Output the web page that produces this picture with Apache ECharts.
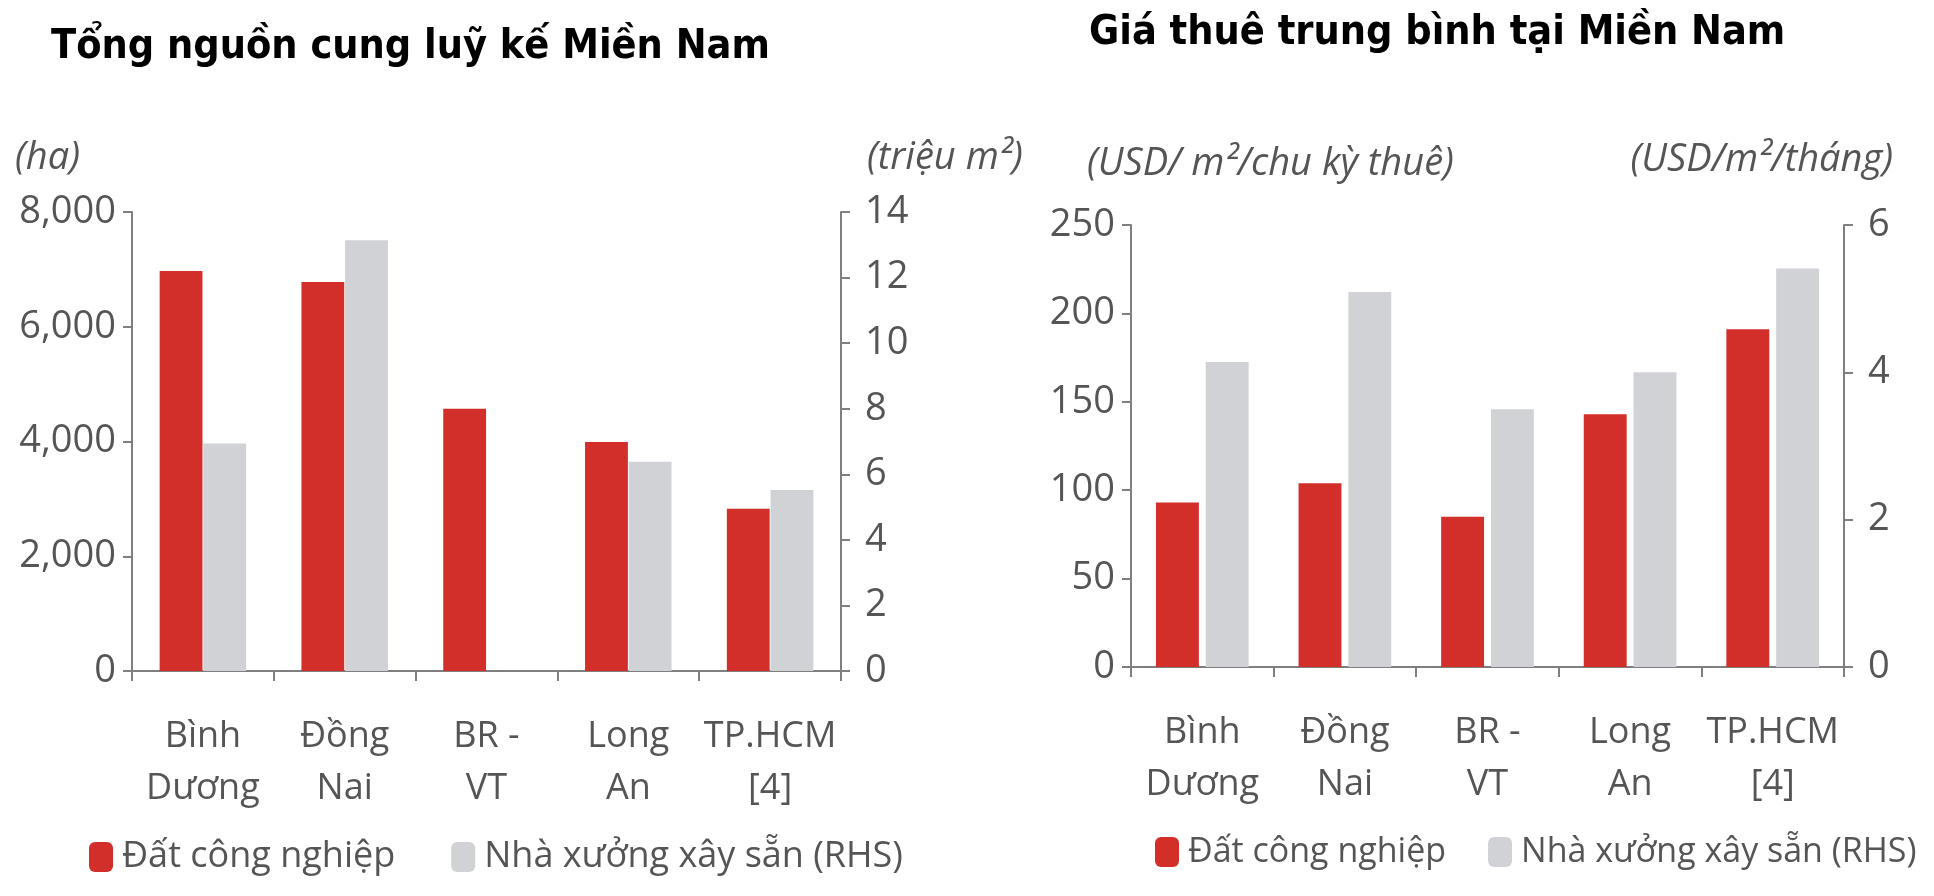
<!DOCTYPE html>
<html lang="vi">
<head>
  <meta charset="UTF-8">
  <title>Nguồn cung và giá thuê Miền Nam</title>
  <script src="https://cdn.jsdelivr.net/npm/echarts@6/dist/echarts.min.js"></script>
  <style>
    html, body { margin: 0; padding: 0; background: #fff; }
  </style>
</head>
<body>
  <div id="main" style="width:1934px;height:896px;"></div>
</body>
</html>
<script type="text/javascript">
  // khu vực (dùng chung cho 2 biểu đồ)
  const khuVuc = ['Bình\nDương', 'Đồng\nNai', 'BR -\nVT', 'Long\nAn', 'TP.HCM\n[4]'];

  // Tổng nguồn cung luỹ kế
  const datCongNghiepHa = [6970, 6780, 4570, 3990, 2830];        // ha
  const nhaXuongTrieuM2 = [6.94, 13.14, null, 6.38, 5.52];        // triệu m2 (RHS)

  // Giá thuê trung bình
  const giaDatCN = [93, 104, 85, 143, 191];                       // USD/m2/chu kỳ thuê
  const giaNhaXuong = [4.14, 5.09, 3.5, 4.0, 5.41];               // USD/m2/tháng (RHS)

  const tenDat = 'Đất công nghiệp';
  const tenNhaXuong = 'Nhà xưởng xây sẵn (RHS)';

  const RED = '#D22E2A';
  const GRAY = '#D0D2D5';
  const AXIS = '#7f7f7f';
  const TXT = '#555555';
  const FONT = "'Open Sans', sans-serif";

  let chart = echarts.init(document.getElementById('main'));

  function valAxis(grid, pos, max, step, fmt) {
    return {
      type: 'value',
      gridIndex: grid,
      position: pos,
      min: 0,
      max: max,
      interval: step,
      splitLine: { show: false },
      axisLine: { show: true, lineStyle: { color: AXIS, width: 2 } },
      axisTick: { show: true, length: 9, lineStyle: { color: AXIS, width: 2 } },
      axisLabel: {
        color: TXT, fontSize: 38, fontFamily: FONT, margin: pos === 'left' ? 16 : 24,
        formatter: fmt
      }
    };
  }

  function catAxis(grid) {
    return {
      type: 'category',
      gridIndex: grid,
      data: khuVuc,
      axisLine: { show: true, lineStyle: { color: AXIS, width: 2 } },
      axisTick: { show: true, length: 10, lineStyle: { color: AXIS, width: 2 } },
      axisLabel: {
        color: TXT, fontSize: 36, fontFamily: FONT, lineHeight: 52,
        margin: 40, interval: 0
      }
    };
  }

  const unitStyle = { color: TXT, fontSize: 38, fontStyle: 'italic', fontWeight: 'normal', fontFamily: FONT };
  const titleStyle = { color: '#000', fontSize: 41, fontWeight: 'bold', fontFamily: "'DejaVu Sans Condensed', 'DejaVu Sans', sans-serif" };

  let option = {
    animation: false,
    backgroundColor: '#fff',
    title: [
      { text: 'Tổng nguồn cung luỹ kế Miền Nam', left: 46, top: 22, textStyle: titleStyle },
      { text: 'Giá thuê trung bình tại Miền Nam', left: 1084, top: 8, textStyle: titleStyle },
      { text: '(ha)', left: 10, top: 134, textStyle: unitStyle },
      { text: '(triệu m²)', left: 862, top: 134, textStyle: unitStyle },
      { text: '(USD/ m²/chu kỳ thuê)', left: 1082, top: 140, textStyle: unitStyle },
      { text: '(USD/m²/tháng)', right: 36, top: 136, textStyle: unitStyle }
    ],
    legend: [
      {
        left: 84, top: 834, width: 820, itemWidth: 24, itemHeight: 30, itemGap: 56,
        data: [tenDat, tenNhaXuong],
        textStyle: { color: TXT, fontSize: 36, fontFamily: FONT, padding: [0, 0, 0, 4] }
      },
      {
        left: 1150, top: 830, width: 780, itemWidth: 24, itemHeight: 30, itemGap: 42,
        data: [tenDat, tenNhaXuong],
        textStyle: { color: TXT, fontSize: 34, fontFamily: FONT, padding: [0, 0, 0, 4] }
      }
    ],
    grid: [
      { left: 132, right: 1093, top: 212, bottom: 225 },
      { left: 1131, right: 90, top: 225, bottom: 229 }
    ],
    xAxis: [catAxis(0), catAxis(1)],
    yAxis: [
      valAxis(0, 'left', 8000, 2000, v => v.toLocaleString('en-US')),
      valAxis(0, 'right', 14, 2),
      valAxis(1, 'left', 250, 50),
      valAxis(1, 'right', 6, 2)
    ],
    series: [
      {
        name: tenDat, type: 'bar', xAxisIndex: 0, yAxisIndex: 0,
        data: datCongNghiepHa, itemStyle: { color: RED },
        barGap: '2%', barCategoryGap: '39%'
      },
      {
        name: tenNhaXuong, type: 'bar', xAxisIndex: 0, yAxisIndex: 1,
        data: nhaXuongTrieuM2, itemStyle: { color: GRAY }
      },
      {
        name: tenDat, type: 'bar', xAxisIndex: 1, yAxisIndex: 2,
        data: giaDatCN, itemStyle: { color: RED },
        barGap: '16%', barCategoryGap: '35%'
      },
      {
        name: tenNhaXuong, type: 'bar', xAxisIndex: 1, yAxisIndex: 3,
        data: giaNhaXuong, itemStyle: { color: GRAY }
      }
    ]
  };
  chart.setOption(option);
</script>
